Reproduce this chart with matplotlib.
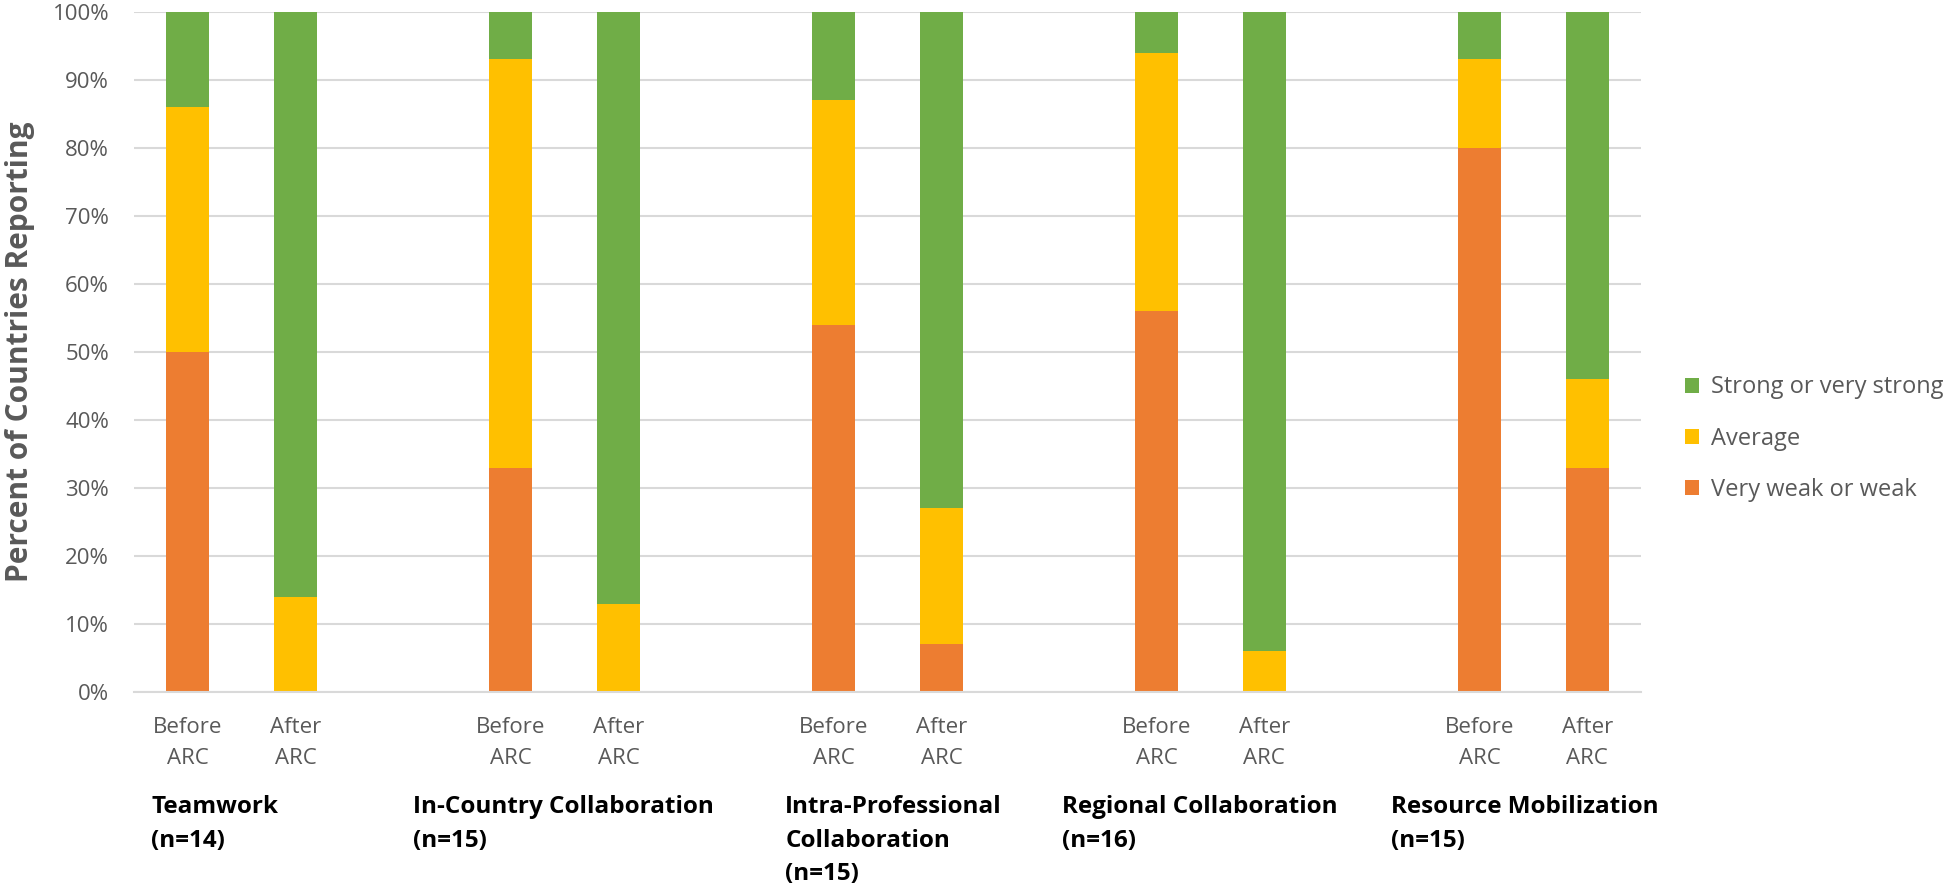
import numpy as np
import matplotlib.pyplot as plt
from matplotlib.ticker import PercentFormatter

# data (percent of countries)
groups = ['Teamwork\n(n=14)', 'In-Country Collaboration\n(n=15)',
          'Intra-Professional\nCollaboration\n(n=15)', 'Regional Collaboration\n(n=16)',
          'Resource Mobilization\n(n=15)']
phases = ['Before\nARC', 'After\nARC']
weak_before = [50, 33, 54, 56, 80]
weak_after = [0, 0, 7, 0, 33]
avg_before = [36, 60, 33, 38, 13]
avg_after = [14, 13, 20, 6, 13]
strong_before = [14, 7, 13, 6, 7]
strong_after = [86, 87, 73, 94, 54]
series_names = ['Very weak or weak', 'Average', 'Strong or very strong']
colors = ['#ED7D31', '#FFC000', '#70AD47']
# where each group label starts, relative to its "Before" bar
label_offsets = [-0.34, -0.91, -0.45, -0.88, -0.82]

plt.rcParams['font.family'] = ['Open Sans', 'DejaVu Sans']

fig = plt.figure(figsize=(19.46, 8.86), dpi=100)
ax = fig.add_axes([0.0689, 0.219, 0.7744, 0.7676])

# Before/After slots with a blank slot between groups
pos_before = np.arange(len(groups)) * 3
pos_after = pos_before + 1
x = np.concatenate([pos_before, pos_after])
weak = np.array(weak_before + weak_after)
avg = np.array(avg_before + avg_after)
strong = np.array(strong_before + strong_after)

w = 0.4
ax.bar(x, weak, w, color=colors[0], label=series_names[0], zorder=2)
ax.bar(x, avg, w, bottom=weak, color=colors[1], label=series_names[1], zorder=2)
ax.bar(x, strong, w, bottom=weak + avg, color=colors[2], label=series_names[2], zorder=2)

ax.set_xlim(-0.5, 3 * len(groups) - 1.5)
ax.set_ylim(0, 100)
ax.set_yticks(np.arange(0, 101, 10))
ax.yaxis.set_major_formatter(PercentFormatter(decimals=0))
ax.grid(axis='y', color='#D9D9D9', linewidth=1.5, zorder=0)
for s in ['top', 'right', 'left']:
    ax.spines[s].set_visible(False)
ax.spines['bottom'].set_color('#D9D9D9')
ax.spines['bottom'].set_linewidth(1.5)
ax.tick_params(axis='both', length=0, labelcolor='#595959')
ax.tick_params(axis='y', pad=18, labelsize=16)
ax.tick_params(axis='x', pad=18, labelsize=16)

ax.set_xticks(x)
ax.set_xticklabels([phases[0]] * len(groups) + [phases[1]] * len(groups),
                   linespacing=1.6)

ax.set_ylabel('Percent of Countries Reporting', fontsize=21.5, fontweight='bold',
              color='#595959')
ax.yaxis.set_label_coords(-0.066, 0.5)

for i, g in enumerate(groups):
    ax.text(pos_before[i] + label_offsets[i], -0.152, g, transform=ax.get_xaxis_transform(),
            ha='left', va='top', fontsize=17.5, fontweight='bold', color='black',
            linespacing=1.52)

handles, labels = ax.get_legend_handles_labels()
fig.legend(handles[::-1], labels[::-1], loc='center left', bbox_to_anchor=(0.866, 0.505),
           frameon=False, fontsize=17, labelcolor='#595959', handlelength=0.6,
           handleheight=0.6, handletextpad=0.5, labelspacing=1.15, borderpad=0,
           borderaxespad=0)

fig.savefig('out.png', dpi=100)
